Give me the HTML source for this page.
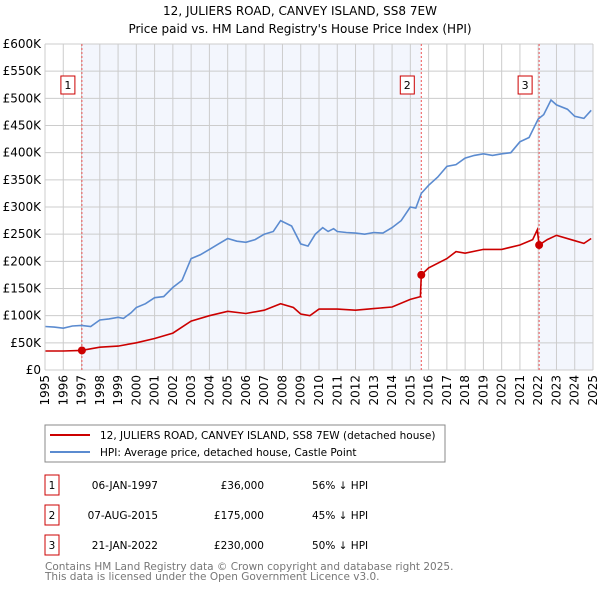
<!DOCTYPE html>
<html><head><meta charset="utf-8"><style>
body{margin:0;background:#fff;font-family:"DejaVu Sans","Liberation Sans",sans-serif;}
svg text{font-family:"DejaVu Sans","Liberation Sans",sans-serif;}
</style></head><body>
<svg id="c" width="600" height="590" xmlns="http://www.w3.org/2000/svg">
<text x="300" y="15" text-anchor="middle" font-size="12">12, JULIERS ROAD, CANVEY ISLAND, SS8 7EW</text>
<text x="300" y="33" text-anchor="middle" font-size="12">Price paid vs. HM Land Registry's House Price Index (HPI)</text>
<g id="plot"></g>
<rect x="45" y="425" width="400" height="37" fill="#fff" stroke="#888"/>
<line x1="50" y1="435" x2="90" y2="435" stroke="#cc0000" stroke-width="2"/>
<text x="100" y="439" font-size="10.5">12, JULIERS ROAD, CANVEY ISLAND, SS8 7EW (detached house)</text>
<line x1="50" y1="452" x2="90" y2="452" stroke="#5b8bd0" stroke-width="2"/>
<text x="100" y="456" font-size="10.5">HPI: Average price, detached house, Castle Point</text>
<g id="tbl" font-size="10.5"></g>
<text x="45" y="570" font-size="10.5" fill="#777">Contains HM Land Registry data © Crown copyright and database right 2025.</text>
<text x="45" y="580" font-size="10.5" fill="#777">This data is licensed under the Open Government Licence v3.0.</text>
</svg>
<script>
const hpiX=[1995,1995.5,1996,1996.5,1997,1997.5,1998,1998.5,1999,1999.3,1999.7,2000,2000.5,2001,2001.5,2002,2002.5,2003,2003.5,2004,2004.5,2005,2005.5,2006,2006.5,2007,2007.5,2007.9,2008.5,2009,2009.4,2009.8,2010.2,2010.5,2010.8,2011,2011.5,2012,2012.5,2013,2013.5,2014,2014.5,2015,2015.3,2015.6,2016,2016.5,2017,2017.5,2018,2018.5,2019,2019.5,2020,2020.5,2021,2021.5,2022,2022.3,2022.7,2023,2023.6,2024,2024.5,2024.9];
const hpiY=[80,79,77,81,82,80,92,94,97,95,105,115,122,133,135,152,165,205,212,222,232,242,237,235,240,250,255,275,265,232,228,250,262,255,260,255,253,252,250,253,252,262,275,300,298,325,340,355,375,378,390,395,398,395,398,400,420,428,462,470,497,488,480,467,463,478];
const ppX=[1995,1996,1997,1998,1999,2000,2001,2002,2003,2004,2005,2006,2007,2007.9,2008.6,2009,2009.5,2010,2011,2012,2013,2014,2015,2015.55,2015.6,2016,2017,2017.5,2018,2019,2020,2021,2021.7,2021.95,2022.05,2022.5,2023,2024,2024.5,2024.9];
const ppY=[35,35,36,42,44,50,58,68,90,100,108,104,110,122,115,103,100,112,112,110,113,116,130,135,175,188,205,218,215,222,222,230,240,258,230,240,248,238,233,242];
const saleX=[1997.02,2015.6,2022.05];
const saleY=[36,175,230];
const saleLabels=["1","2","3"];
const saleDates=["06-JAN-1997","07-AUG-2015","21-JAN-2022"];
const salePrices=["£36,000","£175,000","£230,000"];
const salePct=["56% ↓ HPI","45% ↓ HPI","50% ↓ HPI"];
const yTicks=[0,50,100,150,200,250,300,350,400,450,500,550,600];
const yTickLabels=["£0","£50K","£100K","£150K","£200K","£250K","£300K","£350K","£400K","£450K","£500K","£550K","£600K"];
const xTicks=[1995,1996,1997,1998,1999,2000,2001,2002,2003,2004,2005,2006,2007,2008,2009,2010,2011,2012,2013,2014,2015,2016,2017,2018,2019,2020,2021,2022,2023,2024,2025];

const L=45,R=593,T=44,B=370;
const xs=v=>L+(v-1995)/30*(R-L);
const ys=v=>B-v/600*(B-T);
const NS="http://www.w3.org/2000/svg";
const g=document.getElementById('plot');
function mk(t,a,p){const e=document.createElementNS(NS,t);for(const k in a)e.setAttribute(k,a[k]);(p||g).appendChild(e);return e;}
let e;
e=mk('rect',{x:xs(saleX[0]),y:T,width:xs(saleX[1])-xs(saleX[0]),height:B-T,fill:'#f3f6fd'});


e=mk('rect',{x:xs(saleX[2]),y:T,width:R-xs(saleX[2]),height:B-T,fill:'#f3f6fd'});


yTicks.forEach((v,i)=>{
 e=mk('line',{x1:L,x2:R,y1:ys(v),y2:ys(v),stroke:'#ccc'});
 
 
 e=mk('text',{x:L-4,y:ys(v)+4,'text-anchor':'end','font-size':12});
 e.textContent=yTickLabels[i];
 
 
});
xTicks.forEach(v=>{
 e=mk('line',{x1:xs(v),x2:xs(v),y1:T,y2:B,stroke:'#ccc'});
 
 
 const gg=mk('g',{transform:`translate(${(xs(v)+4).toFixed(1)},${B+5}) rotate(-90)`});
 e=mk('text',{x:0,y:0,'text-anchor':'end','font-size':12},gg);
 e.textContent=v;
 
 
});
saleX.forEach((v,i)=>{
 e=mk('line',{x1:xs(v),x2:xs(v),y1:T,y2:B,stroke:'#e55',"stroke-dasharray":"2,2"});
 
 
 e=mk('rect',{x:xs(v)-21,y:76,width:14,height:18,fill:'#fff',stroke:'#c00'});
 
 
 e=mk('text',{x:xs(v)-14,y:89,'text-anchor':'middle','font-size':11});
 e.textContent=saleLabels[i];
 
 
});
function path(X,Y){return X.map((x,i)=>(i?'L':'M')+xs(x).toFixed(1)+','+ys(Y[i]).toFixed(1)).join('');}
e=mk('path',{d:path(hpiX,hpiY),fill:'none',stroke:'#5b8bd0','stroke-width':1.6});


e=mk('path',{d:path(ppX,ppY),fill:'none',stroke:'#cc0000','stroke-width':1.6});


saleX.forEach((v,i)=>{
 e=mk('circle',{cx:xs(v),cy:ys(saleY[i]),r:4,fill:'#cc0000'});
 
 
});
mk('line',{x1:L,x2:L,y1:T,y2:B,stroke:'#ccc'});
const t=document.getElementById('tbl');
saleLabels.forEach((s,i)=>{
 const cy=485+i*30;
 e=mk('rect',{x:45,y:cy-10,width:14,height:20,fill:'#fff',stroke:'#c00'},t);
 
 
 e=mk('text',{x:52,y:cy+4,'text-anchor':'middle'},t);e.textContent=s;
 
 
 e=mk('text',{x:158,y:cy+4,'text-anchor':'end'},t);e.textContent=saleDates[i];
 
 
 e=mk('text',{x:264,y:cy+4,'text-anchor':'end'},t);e.textContent=salePrices[i];
 
 
 e=mk('text',{x:312,y:cy+4},t);e.textContent=salePct[i];
 
 
});
</script>
</body></html>
